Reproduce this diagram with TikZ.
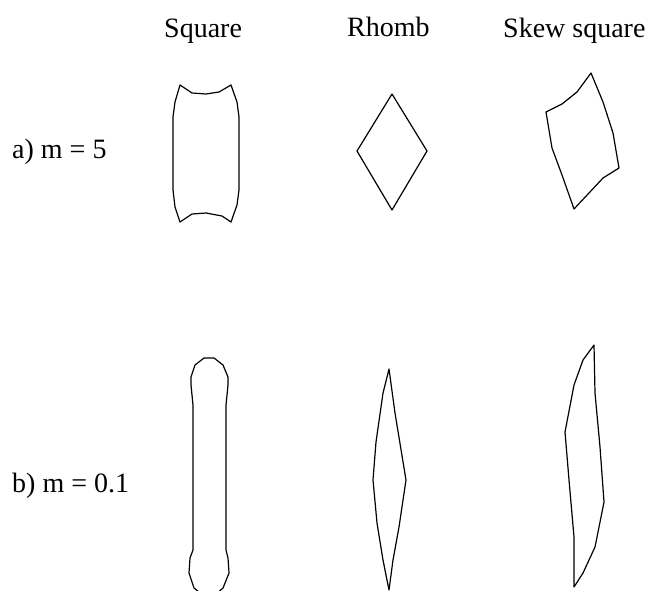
\documentclass[tikz,border=0pt]{standalone}
\usepackage{fontspec}
\setmainfont{Liberation Serif}
\begin{document}
\begin{tikzpicture}[x=1pt,y=-1pt,
  outline/.style={draw=black,line width=1.2pt,line join=round},
  lbl/.style={anchor=base west,inner sep=0pt,font=\fontsize{28}{32}\selectfont}]
\useasboundingbox (0,0) rectangle (647,590);
\clip (0,0) rectangle (647,590);
% headers
\node[lbl] (hsq) at (164,37) {Square};
\node[lbl] (hrh) at (347,36) {Rhomb};
\node[lbl] (hsk) at (503,37) {Skew square};
% row labels
\node[lbl] (la) at (12,158) {a) m = 5};
\node[lbl] (lb) at (12,492) {b) m = 0.1};
% a) square
\draw[outline] (180,85) -- (192,93) -- (206,94) -- (219,92) -- (231,85)
  -- (237,102) -- (239,117) -- (239,190) -- (237,205) -- (231,222)
  -- (222,216) -- (206,213) -- (192,214) -- (180,222)
  -- (175,207) -- (173,190) -- (173,117) -- (175,102) -- cycle;
% a) rhomb
\draw[outline] (392,94) -- (427,151) -- (392,210) -- (357,151) -- cycle;
% a) skew square
\draw[outline] (591,73) -- (603,102) -- (613,133) -- (619,168) -- (603,178)
  -- (574,209) -- (562,175) -- (552,148) -- (546,112) -- (562,104)
  -- (577,92) -- cycle;
% b) square
\draw[outline] (204,358) -- (214,358) -- (223,365) -- (228,377) -- (228,385)
  -- (226,405) -- (226,550) -- (228,558) -- (229,573) -- (223,588)
  -- (214,596) -- (204,596) -- (194,588) -- (189,573) -- (190,558)
  -- (193,550) -- (193,405) -- (191,385) -- (191,377) -- (195,365) -- cycle;
% b) rhomb
\draw[outline] (389,369) -- (395,413) -- (406,480) -- (399,527) -- (393,560)
  -- (389,590) -- (383,560) -- (377,523) -- (373,480) -- (376,442)
  -- (383,393) -- cycle;
% b) skew square
\draw[outline] (594,345) -- (595,393) -- (600,447) -- (604,502) -- (595,547)
  -- (583,573) -- (574,587) -- (574,537) -- (569,480) -- (565,432)
  -- (574,385) -- (583,360) -- cycle;
\end{tikzpicture}
\end{document}
